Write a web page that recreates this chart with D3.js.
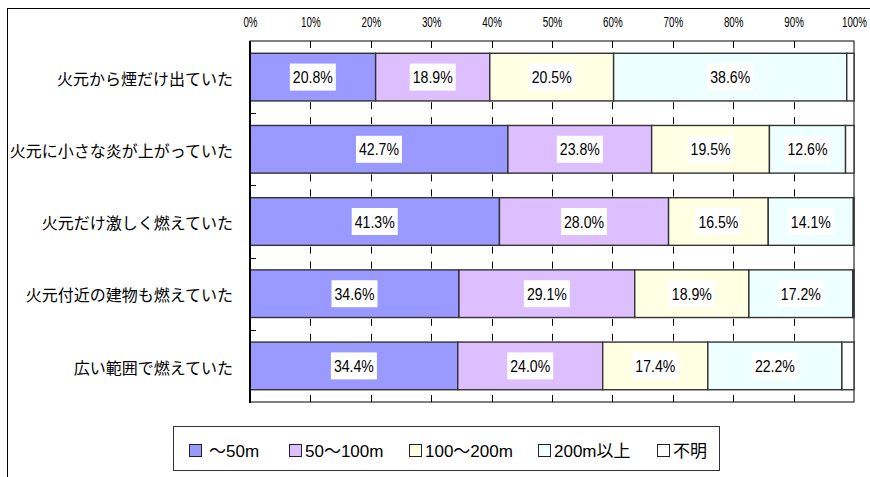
<!DOCTYPE html>
<html><head><meta charset="utf-8">
<script src="https://cdn.jsdelivr.net/npm/d3@7"></script>
<style>html,body{margin:0;padding:0;background:#fff;}svg{display:block;}</style>
</head><body>
<svg id="chart" width="870" height="477"></svg>
<script>
const categories = ["火元から煙だけ出ていた","火元に小さな炎が上がっていた","火元だけ激しく燃えていた","火元付近の建物も燃えていた","広い範囲で燃えていた"];
const seriesNames = ["～50m","50～100m","100～200m","200m以上","不明"];
const upTo50 = [20.8, 42.7, 41.3, 34.6, 34.4];
const from50to100 = [18.9, 23.8, 28.0, 29.1, 24.0];
const from100to200 = [20.5, 19.5, 16.5, 18.9, 17.4];
const over200 = [38.6, 12.6, 14.1, 17.2, 22.2];
const unknownVals = [1.2, 1.4, 0.1, 0.2, 2.0];
const tickValues = [0,10,20,30,40,50,60,70,80,90,100];
const colors = ["#9999FF","#DDBEFF","#FFFFE4","#EEFFFF","#FFFFFF"];

const series = [upTo50, from50to100, from100to200, over200, unknownVals];
const rows = categories.map((c,i)=>{const o={cat:c}; seriesNames.forEach((s,j)=>o[s]=series[j][i]); return o;});
const stacked = d3.stack().keys(seriesNames)(rows);

const svg = d3.select("#chart");
const L=250, R=854, T=41, B=402;
const x = d3.scaleLinear().domain([0,100]).range([L,R]);
const y = d3.scaleBand().domain(categories).range([T,B]).paddingInner(0.34).paddingOuter(0.17);

// outer frame
svg.append("rect").attr("x",7.5).attr("y",8.5).attr("width",900).attr("height",500)
  .attr("fill","none").attr("stroke","#000").attr("stroke-width",1);

// plot area
svg.append("rect").attr("x",L).attr("y",T).attr("width",R-L).attr("height",B-T)
  .attr("fill","#fff").attr("stroke","#000").attr("stroke-width",1);

// ticks in gaps
const bands = categories.map(c=>y(c));
const bw = y.bandwidth();
const mids = [];
for(let i=0;i<categories.length-1;i++) mids.push((bands[i]+bw+bands[i+1])/2);
const segs = [[T,T+7],[B-7,B]];
mids.forEach(m=>{segs.push([m-11,m-4]); segs.push([m+4,m+11]);});
const inner = tickValues.filter(v=>v>0&&v<100);
const tg = svg.append("g");
segs.forEach(s=>{
  tg.selectAll(null).data(inner).enter().append("line")
    .attr("x1",d=>Math.round(x(d))+0.5).attr("x2",d=>Math.round(x(d))+0.5)
    .attr("y1",s[0]).attr("y2",s[1]).attr("stroke","#000").attr("stroke-width",1);
});
// category ticks
tg.selectAll(null).data(mids).enter().append("line")
  .attr("x1",L).attr("x2",L+6).attr("y1",d=>Math.round(d)+0.5).attr("y2",d=>Math.round(d)+0.5)
  .attr("stroke","#000");

// bars
const barG = svg.append("g");
stacked.forEach((layer,j)=>{
  barG.selectAll(null).data(layer).enter().append("rect")
    .attr("x",d=>x(d[0])).attr("width",d=>Math.max(0,x(d[1])-x(d[0])))
    .attr("y",d=>y(d.data.cat)).attr("height",bw)
    .attr("fill",colors[j]).attr("stroke","#333").attr("stroke-width",1.4);
});

// left axis line
svg.append("line").attr("x1",L).attr("x2",L).attr("y1",T).attr("y2",B+1).attr("stroke","#000").attr("stroke-width",2);

// data labels
const labG = svg.append("g");
stacked.slice(0,4).forEach(layer=>{
  layer.forEach(d=>{
    const v = d[1]-d[0];
    const cx = (x(d[0])+x(d[1]))/2, cy = y(d.data.cat)+bw/2;
    const g = labG.append("g").attr("transform",`translate(${cx},${cy})`);
    const rect = g.append("rect").attr("fill","#fff");
    const t = g.append("text").attr("text-anchor","middle").attr("dy","0.36em")
      .attr("font-family","'Liberation Sans', Arial, sans-serif").attr("font-size",17)
      .attr("transform","scale(0.83,1)").attr("fill","#000").text(v.toFixed(1)+"%");
    const w = t.node().getComputedTextLength()*0.83;
    rect.attr("x",-w/2-3).attr("y",-13.5).attr("width",w+6).attr("height",27);
  });
});

// top axis
const ax = svg.append("g").attr("transform",`translate(0,${T})`)
  .call(d3.axisTop(x).tickValues(tickValues).tickFormat(d=>d+"%").tickSizeInner(0).tickSizeOuter(0).tickPadding(14));
ax.select(".domain").remove();
ax.selectAll(".tick line").remove();
ax.selectAll("text").attr("font-family","'Liberation Sans', Arial, sans-serif").attr("font-size",14)
  .attr("fill","#000").attr("transform","scale(0.7,1)");

// category labels
svg.append("g").selectAll("text").data(categories).enter().append("text")
  .attr("x",233).attr("y",d=>y(d)+bw/2+2).attr("dy","0.35em").attr("text-anchor","end")
  .attr("font-family","'Noto Sans CJK JP', sans-serif").attr("font-size",16).attr("fill","#000")
  .text(d=>d);

// legend
svg.append("rect").attr("x",173.5).attr("y",426.5).attr("width",546).attr("height",44)
  .attr("fill","#fff").attr("stroke","#333").attr("stroke-width",1);
const legX = [189, 289, 409, 538, 657];
const lg = svg.append("g");
seriesNames.forEach((s,j)=>{
  lg.append("rect").attr("x",legX[j]+0.5).attr("y",444.5).attr("width",12).attr("height",12)
    .attr("fill",colors[j]).attr("stroke","#222").attr("stroke-width",1);
  lg.append("text").attr("x",legX[j]+(j===0?20:16)).attr("y",451).attr("dy","0.36em")
    .attr("font-family","'Liberation Sans', 'Noto Sans CJK JP', sans-serif").attr("font-size",17)
    .attr("fill","#000").text(s);
});
</script>
</body></html>
